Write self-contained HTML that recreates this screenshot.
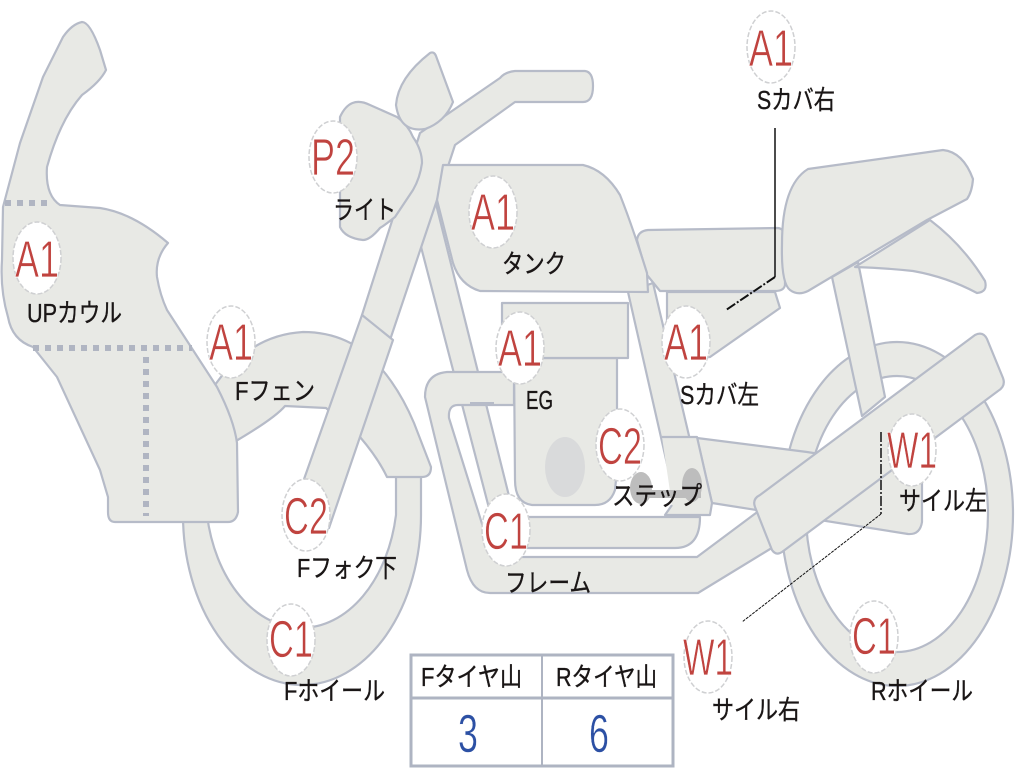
<!DOCTYPE html>
<html><head><meta charset="utf-8"><style>
html,body{margin:0;padding:0;background:#fff}
svg{display:block}
.p{fill:#e8e9e5;stroke:#b6bbc8;stroke-width:2.2;stroke-linejoin:round}
.s{fill:none;stroke:#b6bbc8;stroke-width:2.2;stroke-linejoin:round}
.c{fill:#fff;stroke:#cfd0d2;stroke-width:1.5;stroke-dasharray:5 2}
.r{font-family:"Liberation Sans",sans-serif;font-size:52px;fill:#c0433f;text-anchor:middle;stroke:#fff;stroke-width:.7}
.l{font-family:"Liberation Sans","Noto Sans CJK JP",sans-serif;font-size:26px;fill:#1a1616;stroke:#1a1616;stroke-width:.35}
.v{font-family:"Liberation Sans",sans-serif;font-size:54px;fill:#2c50a4;text-anchor:middle;stroke:#fff;stroke-width:.5}
</style></head><body>
<svg width="1024" height="768" viewBox="0 0 1024 768" xmlns="http://www.w3.org/2000/svg">
<!-- rear wheel -->
<path class="p" fill-rule="evenodd" d="M781,514a116,172 0 1 0 232,0a116,172 0 1 0 -232,0ZM806,514a91,138 0 1 1 182,0a91,138 0 1 1 -182,0Z"/>
<!-- silencer / rear frame -->
<path class="p" d="M697,438L807,452L922,470L922,522Q920,535 908,534L712,503Z"/>
<!-- strut -->
<path class="p" d="M832,277L858,262L885,397L862,416Z"/>
<!-- front wheel -->
<path class="p" d="M183,515A119,170 0 0 0 421,515L421,470L396,470L396,515A96,137 0 0 1 207,515L207,500L183,500Z"/>
<!-- fender -->
<path class="p" d="M215,385Q250,335 303,332Q350,332 380,367Q400,390 414,423L431,467Q431,477 422,477L387,477Q378,458 360,437L326,408L285,406Q275,418 236,441Z"/>
<!-- frame down tube -->
<path class="p" d="M420,243L435,200L510,500L490,512Z"/>
<!-- rear down tube -->
<path class="p" d="M628,292L653,283L690,440L672,485L670,477Z"/>
<!-- exhaust -->
<path class="p" d="M514,372L447,372Q425,374 425,397L467,570Q473,593 490,593L698,593L775,546L760,510L697,557L520,557Q490,550 483,527L449,418Q448,405 458,405L514,405Z"/>
<path d="M470,403L494,403" stroke="#b6bbc8" stroke-width="2" fill="none"/>
<!-- lower tube -->
<path class="p" d="M505,517L700,517Q700,548 675,548L505,548Z"/>
<!-- engine -->
<path class="p" d="M514,358L617,358L617,470L615,490Q610,505 595,505L532,505Q515,503 515,480Z"/>
<path class="p" d="M502,303L628,303L628,358L502,358Z"/>
<ellipse cx="565" cy="467" rx="20" ry="30" fill="#d9dadb"/>
<!-- step -->
<path d="M662,437L697,437L712,503L710,515L665,515L672,505Z" fill="#e8e9e5"/>
<path class="s" d="M662,437L697,437L712,503L710,515L665,515L672,505"/>
<ellipse cx="641" cy="488" rx="11" ry="16" fill="#bdbdbd"/>
<ellipse cx="692" cy="485" rx="10" ry="17" fill="#bdbdbd"/>
<rect x="641" y="490" width="60" height="8" fill="#bdbdbd"/>
<!-- side covers -->
<path class="p" d="M667,292L775,292L780,308L710,357L667,360Z"/>
<path class="p" d="M648,230L778,228Q785,229 785,238L785,285Q784,291 775,291L660,291L647,275L637,240Q638,231 648,230Z"/>
<!-- tail -->
<path class="p" d="M930,220Q963,245 985,281Q988,292 977,293Q947,277 913,271Q885,268 855,267Z"/>
<!-- seat -->
<path class="p" d="M808,169L943,150Q963,152 973,179Q972,192 967,199L927,220L808,291Q798,296 790,290Q781,283 782,244Q782,185 808,169Z"/>
<!-- swing arm -->
<path class="p" d="M975,335Q983,331 987,339L1003,378Q1006,386 998,391L782,552Q776,556 772,550L755,507Q752,499 760,495Z"/>
<!-- fork, light, mirror, tank -->
<path class="p" d="M420,133L500,78Q505,72 515,71L585,71Q593,72 593,86Q593,102 583,102L515,102L455,145L437,200L390,340L362,315Z"/>
<path class="p" d="M362,315L393,340L329,528L303,482Z"/>
<path class="p" d="M340,117Q350,95 370,105L397,117Q408,125 413,137Q422,150 422,163Q420,178 413,190L395,217Q385,225 380,228Q370,240 363,240Q345,238 340,227Z"/>
<path class="p" d="M396,105Q398,78 430,53Q434,51 436,56L453,102Q445,122 425,129Q400,133 396,105Z"/>
<path class="p" d="M443,165L583,165Q605,170 620,195Q632,225 647,273L648,292L480,291Q460,285 453,263L437,200Z"/>
<!-- fairing -->
<path class="p" d="M82,22Q90,22 100,50L106,70Q100,82 82,95Q60,120 47,167Q45,195 60,205L100,208Q133,213 168,243Q155,258 157,277Q160,295 167,310L217,387Q234,420 237,443L238,512Q236,522 228,522L115,522Q108,522 108,512L108,497L100,470L57,377L33,347Q12,340 8,317Q0,290 2,260L3,207L20,143L43,77L63,37Q72,24 82,22Z"/>
<g stroke="#b0b5c2" stroke-width="6" fill="none" stroke-dasharray="6 6">
<path d="M5,203L50,203"/><path d="M33,348L192,348"/><path d="M146,357L146,516"/>
</g>
<!-- leader lines -->
<g fill="none" stroke="#111">
<path d="M775,128L775,277" stroke-width="1.5"/>
<path d="M775,277L726,310" stroke-width="2" stroke-dasharray="10 2 2 2"/>
<path d="M881,432L881,514" stroke-width="1.5" stroke-dasharray="10 2 2 2"/>
<path d="M881,514L742,622" stroke-width="1" stroke-dasharray="3 1"/>
</g>
<!-- circles -->
<g>
<ellipse class="c" cx="771" cy="47" rx="24" ry="36"/>
<ellipse class="c" cx="37" cy="258" rx="24" ry="36"/>
<ellipse class="c" cx="333" cy="157" rx="24" ry="36"/>
<ellipse class="c" cx="231" cy="342" rx="24" ry="36"/>
<ellipse class="c" cx="493" cy="212" rx="24" ry="36"/>
<ellipse class="c" cx="520" cy="348" rx="24" ry="36"/>
<ellipse class="c" cx="686" cy="342" rx="24" ry="36"/>
<ellipse class="c" cx="620" cy="445" rx="24" ry="36"/>
<ellipse class="c" cx="506" cy="530" rx="24" ry="36"/>
<ellipse class="c" cx="306" cy="515" rx="24" ry="36"/>
<ellipse class="c" cx="291" cy="640" rx="24" ry="36"/>
<ellipse class="c" cx="912" cy="450" rx="24" ry="36"/>
<ellipse class="c" cx="708" cy="657" rx="24" ry="36"/>
<ellipse class="c" cx="874" cy="637" rx="24" ry="36"/>
</g>
<g>
<text class="r" x="771" y="66" textLength="44" lengthAdjust="spacingAndGlyphs">A1</text>
<text class="r" x="37" y="277" textLength="44" lengthAdjust="spacingAndGlyphs">A1</text>
<text class="r" x="333" y="175" textLength="44" lengthAdjust="spacingAndGlyphs">P2</text>
<text class="r" x="231" y="360" textLength="44" lengthAdjust="spacingAndGlyphs">A1</text>
<text class="r" x="493" y="230" textLength="44" lengthAdjust="spacingAndGlyphs">A1</text>
<text class="r" x="520" y="366" textLength="44" lengthAdjust="spacingAndGlyphs">A1</text>
<text class="r" x="686" y="360" textLength="44" lengthAdjust="spacingAndGlyphs">A1</text>
<text class="r" x="620" y="464" textLength="44" lengthAdjust="spacingAndGlyphs">C2</text>
<text class="r" x="506" y="549" textLength="44" lengthAdjust="spacingAndGlyphs">C1</text>
<text class="r" x="306" y="534" textLength="44" lengthAdjust="spacingAndGlyphs">C2</text>
<text class="r" x="291" y="657" textLength="44" lengthAdjust="spacingAndGlyphs">C1</text>
<text class="r" x="912" y="468" textLength="50" lengthAdjust="spacingAndGlyphs">W1</text>
<text class="r" x="708" y="675" textLength="50" lengthAdjust="spacingAndGlyphs">W1</text>
<text class="r" x="874" y="654" textLength="44" lengthAdjust="spacingAndGlyphs">C1</text>
</g>
<!-- labels -->
<text class="l" x="757" y="109" textLength="78" lengthAdjust="spacingAndGlyphs">Sカバ右</text>
<text class="l" x="27" y="322" textLength="95" lengthAdjust="spacingAndGlyphs">UPカウル</text>
<text class="l" x="333" y="219" textLength="63" lengthAdjust="spacingAndGlyphs">ライト</text>
<text class="l" x="502" y="273" textLength="64" lengthAdjust="spacingAndGlyphs">タンク</text>
<text class="l" x="235" y="400" textLength="80" lengthAdjust="spacingAndGlyphs">Fフェン</text>
<text class="l" x="526" y="409" textLength="27" lengthAdjust="spacingAndGlyphs">EG</text>
<text class="l" x="680" y="404" textLength="79" lengthAdjust="spacingAndGlyphs">Sカバ左</text>
<text class="l" x="612" y="505" textLength="90" lengthAdjust="spacingAndGlyphs">ステップ</text>
<text class="l" x="505" y="592" textLength="86" lengthAdjust="spacingAndGlyphs">フレーム</text>
<text class="l" x="899" y="510" textLength="88" lengthAdjust="spacingAndGlyphs">サイル左</text>
<text class="l" x="297" y="577" textLength="100" lengthAdjust="spacingAndGlyphs">Fフォク下</text>
<text class="l" x="284" y="700" textLength="101" lengthAdjust="spacingAndGlyphs">Fホイール</text>
<text class="l" x="712" y="719" textLength="88" lengthAdjust="spacingAndGlyphs">サイル右</text>
<text class="l" x="871" y="700" textLength="102" lengthAdjust="spacingAndGlyphs">Rホイール</text>
<!-- table -->
<g fill="none" stroke="#aeb4c2">
<rect x="411" y="655" width="262" height="111" stroke-width="3"/>
<path d="M411,698L673,698" stroke-width="3"/>
<path d="M542,655L542,766" stroke-width="2"/>
</g>
<text class="l" x="421" y="686" textLength="101" lengthAdjust="spacingAndGlyphs">Fタイヤ山</text>
<text class="l" x="556" y="686" textLength="101" lengthAdjust="spacingAndGlyphs">Rタイヤ山</text>
<text class="v" x="468" y="752" textLength="20" lengthAdjust="spacingAndGlyphs">3</text>
<text class="v" x="599" y="752" textLength="20" lengthAdjust="spacingAndGlyphs">6</text>
</svg>
</body></html>
